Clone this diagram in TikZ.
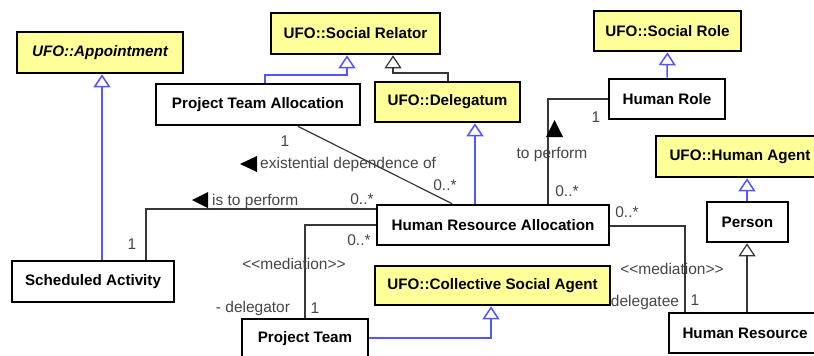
\documentclass[tikz,border=0pt]{standalone}
\usepackage{fontspec}
\setmainfont{Liberation Sans}
\usetikzlibrary{arrows.meta}

\definecolor{ufoyellow}{RGB}{255,255,153}
\definecolor{genblue}{RGB}{85,85,255}
\definecolor{assocgray}{RGB}{55,55,55}
\definecolor{labelgray}{RGB}{70,70,70}

\tikzset{
  cls/.style={draw=black, line width=2.7pt, fill=white, inner sep=0pt,
    font=\fontsize{15.2}{18}\selectfont\bfseries},
  ufo/.style={cls, fill=ufoyellow},
  gen/.style={draw=genblue, line width=1.5pt,
    -{Triangle[open, length=13pt, width=17pt]}},
  genk/.style={draw=assocgray, line width=1.2pt,
    -{Triangle[open, length=13pt, width=17pt]}},
  assoc/.style={draw=assocgray, line width=1.2pt},
  lbl/.style={text=labelgray, inner sep=0pt, font=\fontsize{15.5}{18}\selectfont},
  readmark/.style={fill=black},
}

\begin{document}
\begin{tikzpicture}[x=1pt, y=-1pt]
\clip (0,0) rectangle (814,356);
\fill[white] (0,0) rectangle (814,356);

% classes
\node[ufo, minimum width=166pt, minimum height=41pt] (app)   at (100,52.5)  {\itshape UFO::Appointment};
\node[ufo, minimum width=169pt, minimum height=41pt] (rel)   at (355.5,33.5) {UFO::Social Relator};
\node[cls, minimum width=204pt, minimum height=41pt] (pta)   at (258,104.5) {Project Team Allocation};
\node[ufo, minimum width=145pt, minimum height=40pt] (dlg)   at (447.5,102) {UFO::Delegatum};
\node[ufo, minimum width=147pt, minimum height=40pt] (srole) at (667.5,31)  {UFO::Social Role};
\node[cls, minimum width=116pt, minimum height=40pt] (hrole) at (667,99)    {Human Role};
\node[ufo, minimum width=168pt, minimum height=41pt] (hagent) at (740,156.5) {UFO::Human Agent};
\node[cls, minimum width=81pt,  minimum height=40pt] (person) at (747.5,222) {Person};
\node[cls, minimum width=232pt, minimum height=40pt] (hra)   at (493,225)   {Human Resource Allocation};
\node[cls, minimum width=162pt, minimum height=41pt] (sa)    at (93,281.5)  {Scheduled Activity};
\node[ufo, minimum width=235pt, minimum height=39pt] (csa)   at (492.5,285.5) {UFO::Collective Social Agent};
\node[cls, minimum width=126pt, minimum height=40pt] (pt)    at (305,339)   {Project Team};
\node[cls, minimum width=152pt, minimum height=40pt] (hres)  at (745,333)   {Human Resource};

% bend points
\coordinate (b1)  at (265,75);  \coordinate (b1t) at (347,75);
\coordinate (b2)  at (448,73);  \coordinate (b2t) at (393,73);
\coordinate (b4)  at (475,0);
\coordinate (b8)  at (491,338);
\coordinate (c9a) at (298,0);   \coordinate (c9b) at (452,0);
\coordinate (b10) at (548,99);
\coordinate (b11) at (146,209);
\coordinate (b12) at (305,225);
\coordinate (b13) at (685,226);
\coordinate (gx)  at (102,0);
\coordinate (px)  at (747,0);

% generalizations
\draw[gen]  (sa.north -| gx) -- (app.south -| gx);
\draw[gen]  (pta.north -| b1) -- (b1) -- (b1t) -- (rel.south -| b1t);
\draw[genk] (dlg.north -| b2) -- (b2) -- (b2t) -- (rel.south -| b2t);
\draw[gen]  (hra.north -| b4) -- (dlg.south -| b4);
\draw[gen]  (hrole.north) -- (srole.south);
\draw[gen]  (person.north -| px) -- (hagent.south -| px);
\draw[genk] (hres.north -| px) -- (person.south -| px);
\draw[gen]  (pt.east |- b8) -- (b8) -- (csa.south -| b8);

% associations
\draw[assoc] (pta.south -| c9a) -- (hra.north -| c9b);
\draw[assoc] (hra.north -| b10) -- (b10) -- (hrole.west |- b10);
\draw[assoc] (sa.north -| b11) -- (b11) -- (hra.west |- b11);
\draw[assoc] (hra.west |- b12) -- (b12) -- (pt.north -| b12);
\draw[assoc] (hra.east |- b13) -- (b13) -- (hres.north -| b13);

% reading direction marks
\fill[readmark] (240,164) -- (257,156) -- (257,172) -- cycle;
\fill[readmark] (192,200) -- (208,192) -- (208,208) -- cycle;
\fill[readmark] (554.5,120) -- (546,137) -- (563,137) -- cycle;

% labels
\node[lbl] (l1)  at (285,141) {1};
\node[lbl, anchor=west] (l2) at (260,164) {existential dependence of};
\node[lbl] (l3)  at (445,185) {0..*};
\node[lbl] (l4)  at (552,154) {to perform};
\node[lbl] (l5)  at (596,117) {1};
\node[lbl] (l6)  at (567,191) {0..*};
\node[lbl, anchor=west] (l7) at (212,201) {is to perform};
\node[lbl] (l8)  at (362,199) {0..*};
\node[lbl] (l9)  at (132,244) {1};
\node[lbl] (l10) at (359,240) {0..*};
\node[lbl] (l11) at (294,264) {<{}<mediation>{}>};
\node[lbl] (l12) at (253,308) {- delegator};
\node[lbl] (l13) at (315,308) {1};
\node[lbl] (l14) at (627,212) {0..*};
\node[lbl] (l15) at (672,269) {<{}<mediation>{}>};
\node[lbl] (l16) at (645,302) {delegatee};
\node[lbl] (l17) at (695,300) {1};
\end{tikzpicture}
\end{document}
